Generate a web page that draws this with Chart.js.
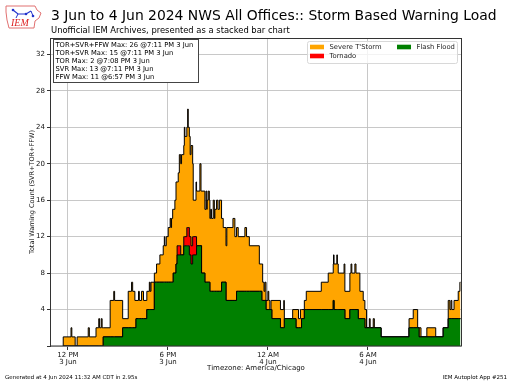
<!DOCTYPE html>
<html>
<head>
<meta charset="utf-8">
<script src="https://cdn.jsdelivr.net/npm/chart.js@4.4.1/dist/chart.umd.min.js"></script>
<style>
  body { margin: 0; background: #fff; }
  #wrap { position: relative; width: 512px; height: 384px; font-family: "DejaVu Sans", sans-serif; color: #000; }
  #myChart { position: absolute; left: 0; top: 0; }
  .txt { position: absolute; white-space: nowrap; line-height: 1; }
  #title { left: 51px; top: 9px; font-size: 13.9px; }
  #subtitle { left: 51px; top: 26px; font-size: 8.4px; }
  #gen { left: 5px; top: 375px; font-size: 5.5px; }
  #app { right: 5px; top: 375px; font-size: 5.5px; }
  #logo { position: absolute; left: 4px; top: 2px; }
</style>
</head>
<body>
<div id="wrap">
  <canvas id="myChart" width="512" height="384"></canvas>
  <svg id="logo" width="40" height="30" viewBox="0 0 40 30">
    <path d="M2,4 L31,4 L33,8 L37,11 L35,16 L31,19 L30,26 L5,26 L3,18 L2,10 Z" fill="none" stroke="#e07070" stroke-width="1"/>
    <polyline points="9,8 14,12 22,12 27,9" fill="none" stroke="#2233cc" stroke-width="1.2"/>
    <line x1="14" y1="12" x2="12" y2="16" stroke="#2233cc" stroke-width="1"/>
    <line x1="27" y1="9" x2="29" y2="14" stroke="#2233cc" stroke-width="1"/>
    <circle cx="9" cy="8" r="1.3" fill="#2233cc"/>
    <circle cx="22" cy="12" r="1.3" fill="#2233cc"/>
    <circle cx="29" cy="14" r="1.3" fill="#2233cc"/>
    <text x="7" y="24" font-family="Liberation Serif, serif" font-style="italic" font-size="10" fill="#dd2222">IEM</text>
  </svg>
  <div class="txt" id="title">3 Jun to 4 Jun 2024 NWS All Offices:: Storm Based Warning Load</div>
  <div class="txt" id="subtitle">Unofficial IEM Archives, presented as a stacked bar chart</div>
  <div class="txt" id="gen">Generated at 4 Jun 2024 11:32 AM CDT in 2.95s</div>
  <div class="txt" id="app">IEM Autoplot App #251</div>
</div>
<script>
const ctx = document.getElementById('myChart').getContext('2d');

// minutes since 3 Jun 00:00 CDT, each value holds until the next time
const minutes = [
  702, 703, 731, 734, 746, 753, 793, 797, 821, 831, 834, 840, 843, 847, 872, 885, 888, 917, 937, 949,
  953, 961, 965, 974, 977, 985, 992, 1004, 1013, 1016, 1019, 1031, 1039, 1051, 1063, 1067, 1069, 1074, 1081, 1088,
  1091, 1093, 1097, 1099, 1105, 1109, 1113, 1117, 1121, 1126, 1129, 1137, 1139, 1141, 1148, 1151, 1153, 1157, 1160, 1163,
  1169, 1171, 1181, 1183, 1195, 1199, 1201, 1213, 1217, 1220, 1221, 1225, 1229, 1231, 1234, 1237, 1243, 1247, 1249, 1255,
  1260, 1265, 1273, 1279, 1289, 1292, 1314, 1321, 1327, 1333, 1357, 1363, 1373, 1409, 1418, 1421, 1426, 1429, 1433, 1440,
  1443, 1447, 1451, 1454, 1485, 1497, 1499, 1529, 1541, 1550, 1557, 1561, 1571, 1578, 1632, 1657, 1675, 1676, 1678, 1688,
  1690, 1693, 1714, 1717, 1735, 1739, 1742, 1753, 1757, 1765, 1771, 1783, 1789, 1795, 1805, 1808, 1819, 1823, 1847, 1948,
  1963, 1979, 1984, 1991, 2012, 2044, 2071, 2089, 2095, 2099, 2102, 2110, 2125, 2131, 2133
];
const ffw = [
  0, 0, 0, 0, 0, 0, 0, 0, 0, 0, 0, 0, 0, 1, 1, 1, 1, 2, 2, 2,
  2, 2, 3, 3, 3, 3, 3, 4, 4, 4, 4, 7, 7, 7, 7, 7, 7, 7, 7, 7,
  7, 7, 7, 8, 8, 9, 10, 10, 10, 10, 10, 11, 11, 11, 11, 11, 11, 10, 10, 9,
  10, 10, 10, 11, 11, 11, 8, 7, 7, 7, 7, 7, 7, 6, 6, 6, 6, 6, 6, 6,
  6, 6, 7, 7, 5, 5, 5, 5, 6, 6, 6, 6, 6, 6, 5, 5, 5, 5, 4, 4,
  4, 4, 4, 3, 2, 2, 3, 3, 2, 2, 2, 3, 4, 4, 4, 4, 5, 5, 4, 4,
  4, 4, 4, 3, 4, 4, 4, 4, 4, 3, 3, 3, 2, 2, 2, 2, 2, 2, 1, 2,
  2, 2, 1, 1, 1, 1, 2, 3, 3, 3, 3, 3, 3, 3, 3
];
const tor = [
  0, 0, 0, 0, 0, 0, 0, 0, 0, 0, 0, 0, 0, 0, 0, 0, 0, 0, 0, 0,
  0, 0, 0, 0, 0, 0, 0, 0, 0, 0, 0, 0, 0, 0, 0, 0, 0, 0, 0, 0,
  0, 0, 0, 0, 0, 0, 1, 1, 1, 0, 0, 1, 1, 1, 2, 2, 2, 2, 2, 2,
  2, 2, 2, 0, 0, 0, 0, 0, 0, 0, 0, 0, 0, 0, 0, 0, 0, 0, 0, 0,
  0, 0, 0, 0, 0, 0, 0, 0, 0, 0, 0, 0, 0, 0, 0, 0, 0, 0, 0, 0,
  0, 0, 0, 0, 0, 0, 0, 0, 0, 0, 0, 0, 0, 0, 0, 0, 0, 0, 0, 0,
  0, 0, 0, 0, 0, 0, 0, 0, 0, 0, 0, 0, 0, 0, 0, 0, 0, 0, 0, 0,
  0, 0, 0, 0, 0, 0, 0, 0, 0, 0, 0, 0, 0, 0, 0
];
const svr = [
  0, 1, 2, 1, 0, 1, 2, 1, 2, 3, 2, 3, 2, 1, 4, 5, 4, 1, 4, 5,
  4, 3, 2, 3, 2, 3, 2, 2, 3, 2, 3, 1, 2, 3, 4, 5, 4, 5, 6, 7,
  6, 7, 8, 7, 8, 9, 7, 8, 10, 10, 11, 10, 12, 11, 11, 13, 11, 11, 9, 11,
  8, 4, 6, 6, 9, 6, 9, 8, 10, 8, 9, 10, 9, 8, 9, 8, 10, 8, 9, 10,
  9, 10, 7, 6, 6, 8, 9, 7, 7, 6, 7, 6, 5, 3, 4, 2, 1, 2, 1, 2,
  1, 0, 1, 2, 2, 3, 0, 1, 2, 1, 2, 1, 1, 2, 3, 4, 4, 5, 5, 6,
  5, 4, 5, 3, 4, 5, 4, 5, 4, 5, 3, 2, 2, 0, 1, 0, 1, 0, 0, 1,
  2, 0, 1, 0, 1, 0, 0, 2, 1, 2, 1, 2, 3, 4, 4
];

const tickMinutes = [720, 1080, 1440, 1800];
const tickLabels = [['12 PM', '3 Jun'], ['6 PM', '3 Jun'], ['12 AM', '4 Jun'], ['6 AM', '4 Jun']];
const yTicks = [0, 4, 8, 12, 16, 20, 24, 28, 32];

const maxLines = [
  'TOR+SVR+FFW Max: 26 @7:11 PM 3 Jun',
  'TOR+SVR Max: 15 @7:11 PM 3 Jun',
  'TOR Max: 2 @7:08 PM 3 Jun',
  'SVR Max: 13 @7:11 PM 3 Jun',
  'FFW Max: 11 @6:57 PM 3 Jun'
];

const toPoints = arr => minutes.map((m, i) => ({ x: m, y: arr[i] }));

const lineStyle = { borderColor: '#000', borderWidth: 1, stepped: true, pointRadius: 0 };

const data = {
  datasets: [
    { ...lineStyle, label: 'Flash Flood', data: toPoints(ffw), backgroundColor: '#008000', fill: 'origin' },
    { ...lineStyle, label: 'Tornado', data: toPoints(tor), backgroundColor: '#ff0000', fill: '-1' },
    { ...lineStyle, label: "Severe T'Storm", data: toPoints(svr), backgroundColor: '#ffa500', fill: '-1' }
  ]
};

// legend slots as laid out by matplotlib (2 columns)
const legendSlots = [
  { label: "Severe T'Storm", x: 310, y: 47 },
  { label: 'Tornado', x: 310, y: 56 },
  { label: 'Flash Flood', x: 397, y: 47 }
];

const tickFont = { family: 'DejaVu Sans', size: 7, lineHeight: 1.05 };

const extras = {
  id: 'extras',
  afterDraw(chart) {
    const c = chart.ctx;
    const a = chart.chartArea;
    c.save();
    // axes frame
    c.strokeStyle = '#333';
    c.lineWidth = 1;
    c.strokeRect(a.left - 0.5, a.top + 0.5, a.right - a.left + 1, a.bottom - a.top - 0.5);

    // stats box
    c.fillStyle = '#fff';
    c.fillRect(a.left + 2.5, a.top + 1.5, 145, 43);
    c.strokeStyle = '#444';
    c.strokeRect(a.left + 2.5, a.top + 1.5, 145, 43);
    c.fillStyle = '#000';
    c.font = '6.75px "DejaVu Sans"';
    c.textBaseline = 'middle';
    maxLines.forEach((t, i) => c.fillText(t, a.left + 4.5, a.top + 6.8 + i * 8));

    // legend
    c.globalAlpha = 0.8;
    c.fillStyle = '#fff';
    c.beginPath();
    c.roundRect(307.5, 41.5, 150, 22, 2);
    c.fill();
    c.globalAlpha = 1;
    c.strokeStyle = '#d8d8d8';
    c.stroke();
    c.font = '6.8px "DejaVu Sans"';
    legendSlots.forEach(s => {
      const ds = chart.data.datasets.find(d => d.label === s.label);
      c.fillStyle = ds.backgroundColor;
      c.fillRect(s.x, s.y - 2.3, 14, 4.6);
      c.fillStyle = '#222';
      c.fillText(s.label, s.x + 19.5, s.y);
    });
    c.restore();
  }
};

const config = {
  type: 'line',
  data: data,
  options: {
    responsive: false,
    animation: false,
    layout: { padding: { left: 11, right: 51, top: 38, bottom: 8 } },
    plugins: { legend: { display: false }, tooltip: { enabled: false } },
    scales: {
      x: {
        type: 'linear',
        min: 659,
        max: 2135,
        z: 1,
        afterBuildTicks: s => { s.ticks = tickMinutes.map(v => ({ value: v })); },
        afterFit: s => { s.height = 30; },
        border: { display: false },
        grid: { color: 'rgba(190,190,190,0.85)', tickColor: '#333', tickLength: 4 },
        ticks: {
          font: tickFont, color: '#111', maxRotation: 0, autoSkip: false, padding: 1.5,
          callback: v => tickLabels[tickMinutes.indexOf(v)]
        },
        title: {
          display: true, text: 'Timezone: America/Chicago', color: '#111',
          font: { family: 'DejaVu Sans', size: 7 }, padding: { top: 0, bottom: 3.8 }
        }
      },
      y: {
        stacked: true,
        min: 0,
        max: 33.8,
        z: 1,
        afterBuildTicks: s => { s.ticks = yTicks.map(v => ({ value: v })); },
        afterFit: s => { s.width = 40; },
        border: { display: false },
        grid: { color: 'rgba(190,190,190,0.85)', tickColor: '#333', tickLength: 4 },
        ticks: {
          font: tickFont, color: '#111', padding: 2,
          callback: v => (v === 0 ? '' : v)
        },
        title: {
          display: true, text: 'Total Warning Count (SVR+TOR+FFW)', color: '#111',
          font: { family: 'DejaVu Sans', size: 6.5 }, padding: { top: 17, bottom: 0 }
        }
      }
    }
  },
  plugins: [extras]
};

const myChart = new Chart(ctx, config);
</script>
</body>
</html>
